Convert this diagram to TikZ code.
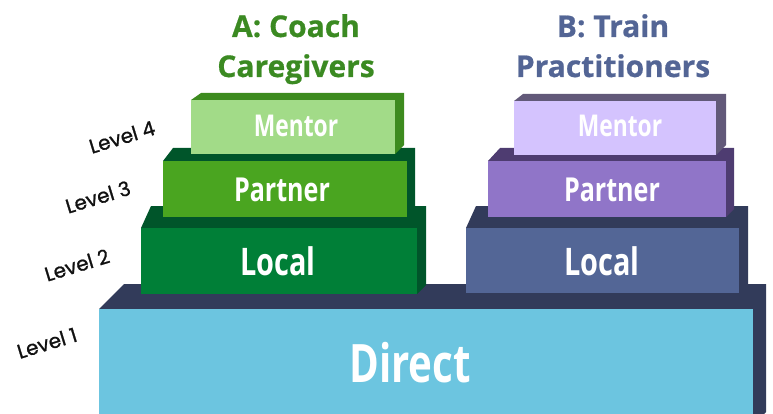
\documentclass[tikz,border=0pt]{standalone}
\usepackage{fontspec}
\setmainfont{Open Sans}
\newfontfamily\condfont{Open Sans}[FakeStretch=0.76]
\newfontfamily\titlefont{Open Sans}[FakeBold=0.6]
\newfontfamily\levelfont{Poppins}[FakeBold=1.1]
\definecolor{directF}{HTML}{6CC5E0}
\definecolor{navyD}{HTML}{323B5A}
\definecolor{localAF}{HTML}{007F37}
\definecolor{greenD}{HTML}{00552A}
\definecolor{partnerAF}{HTML}{4AA520}
\definecolor{mentorAF}{HTML}{A2DB88}
\definecolor{mentorAD}{HTML}{3D8B1F}
\definecolor{localBF}{HTML}{536696}
\definecolor{partnerBF}{HTML}{9075C8}
\definecolor{partnerBD}{HTML}{4E3C71}
\definecolor{mentorBF}{HTML}{D4C3FE}
\definecolor{mentorBD}{HTML}{625979}
\definecolor{titleA}{HTML}{3B8A22}
\definecolor{titleB}{HTML}{536595}
\definecolor{levelC}{HTML}{111111}
% block: L,T,R,B,Tback,dl,s,front,dark
\newcommand\blk[9]{%
  \fill[#9] (#1,#2) -- (#1+#6,#5) -- (#3+#7,#5) -- (#3+#7,#4-#7) -- (#3,#4) -- cycle;
  \fill[#8] (#1,#2) rectangle (#3,#4);
}
\tikzset{
  boxlabel/.style={anchor=base, inner sep=0pt, text=white, font=\condfont\bfseries\fontsize{#1}{#1}\selectfont},
  title/.style={anchor=base, inner sep=0pt, text=#1, font=\titlefont\bfseries\fontsize{30}{30}\selectfont},
  level/.style={rotate=17, inner sep=0pt, text=levelC, font=\levelfont\fontsize{20}{20}\selectfont}
}
\begin{document}
\begin{tikzpicture}[x=1pt,y=-1pt]
\useasboundingbox (0,0) rectangle (773,414);
% Level 1 : Direct
\blk{99}{309}{753}{425}{284}{25}{13}{directF}{navyD}
% Column A
\blk{141}{228}{417}{294}{206}{10}{9}{localAF}{greenD}
\blk{163}{161}{407}{217}{148}{10}{8}{partnerAF}{greenD}
\blk{191}{100}{395}{154}{93}{10}{9}{mentorAF}{mentorAD}
% Column B
\blk{466}{228}{739}{293}{206}{10}{9}{localBF}{navyD}
\blk{488}{161}{726}{217}{148}{12}{8}{partnerBF}{partnerBD}
\blk{514}{101}{716}{155}{94}{9}{10}{mentorBF}{mentorBD}
% box labels
\node[boxlabel=53] (direct) at (410,382) {Direct};
\node[boxlabel=38] (localA) at (278,275) {Local};
\node[boxlabel=33] (partnerA) at (282,201) {Partner};
\node[boxlabel=30] (mentorA) at (296,137) {Mentor};
\node[boxlabel=38] (localB) at (602,275) {Local};
\node[boxlabel=33] (partnerB) at (612,201) {Partner};
\node[boxlabel=30] (mentorB) at (620,137) {Mentor};
% titles
\node[title=titleA] (tA1) at (296,37) {A: Coach};
\node[title=titleA] (tA2) at (296,77) {Caregivers};
\node[title=titleB] (tB1) at (613,37) {B: Train};
\node[title=titleB] (tB2) at (613,77) {Practitioners};
% level labels
\node[level] (lv4) at (122,137) {Level 4};
\node[level] (lv3) at (98,197) {Level 3};
\node[level] (lv2) at (77,265) {Level 2};
\node[level] (lv1) at (47,343) {Level 1};
\end{tikzpicture}
\end{document}
